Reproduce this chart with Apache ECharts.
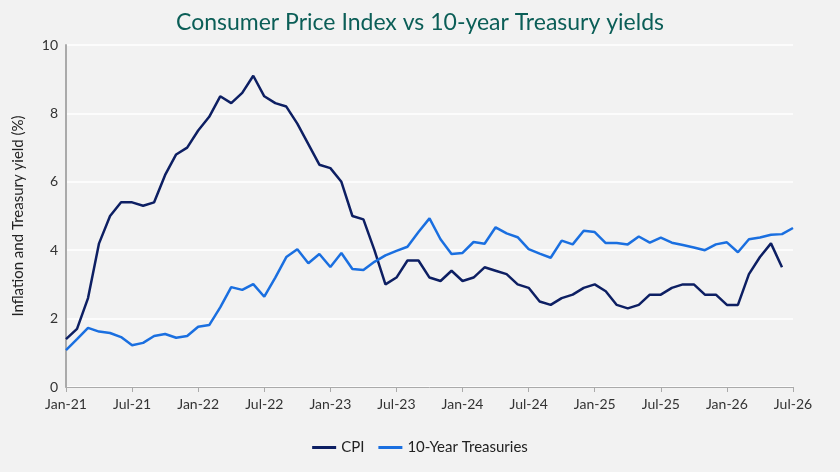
<!DOCTYPE html><html><head><meta charset="utf-8"><script src="https://cdn.jsdelivr.net/npm/echarts@6/dist/echarts.min.js"></script>
<style>html,body{margin:0;background:#f2f2f2}#c{width:840px;height:472px}</style></head><body><div id="c"></div><script>
const months=['Jan','Feb','Mar','Apr','May','Jun','Jul','Aug','Sep','Oct','Nov','Dec'];
const categories=[];for(let y=21;y<=26;y++)for(let m=0;m<12;m++){if(y===26&&m>6)break;categories.push(months[m]+'-'+y);}
const cpi=[1.4,1.7,2.6,4.2,5.0,5.4,5.4,5.3,5.4,6.2,6.8,7.0,7.5,7.9,8.5,8.3,8.6,9.1,8.5,8.3,8.2,7.7,7.1,6.5,6.4,6.0,5.0,4.9,4.0,3.0,3.2,3.7,3.7,3.2,3.1,3.4,3.1,3.2,3.5,3.4,3.3,3.0,2.9,2.5,2.4,2.6,2.7,2.9,3.0,2.8,2.4,2.3,2.4,2.7,2.7,2.9,3.0,3.0,2.7,2.7,2.4,2.4,3.3,3.8,4.2,3.5];
const treasuries=[1.08,1.4,1.73,1.62,1.58,1.46,1.22,1.29,1.49,1.55,1.44,1.49,1.76,1.81,2.33,2.92,2.84,3.01,2.64,3.2,3.8,4.03,3.62,3.89,3.51,3.92,3.45,3.42,3.66,3.85,3.98,4.1,4.53,4.93,4.32,3.89,3.92,4.24,4.19,4.67,4.49,4.38,4.03,3.9,3.78,4.28,4.17,4.57,4.53,4.21,4.21,4.17,4.4,4.22,4.37,4.22,4.15,4.08,4.0,4.17,4.23,3.94,4.32,4.37,4.45,4.47,4.65];
const c=echarts.init(document.getElementById('c'));
c.setOption({backgroundColor:'#f2f2f2',animation:false,
title:{text:'Consumer Price Index vs 10-year Treasury yields',left:'center',top:6,textStyle:{color:'#0b5e57',fontSize:23,fontWeight:'normal',fontFamily:'Lato'}},
legend:{bottom:12,itemWidth:24,itemHeight:3,icon:'rect',textStyle:{fontSize:15,color:'#222',fontFamily:'Lato'},itemGap:14,data:['CPI','10-Year Treasuries']},
grid:{left:66,right:47,top:45,bottom:85},
xAxis:{type:'category',data:categories,boundaryGap:false,axisLine:{lineStyle:{color:'#aaa'}},axisTick:{show:true,interval:5,alignWithLabel:true,lineStyle:{color:'#aaa'}},axisLabel:{interval:5,color:'#333',fontSize:14,fontFamily:'Lato',margin:10},splitLine:{show:false}},
yAxis:{type:'value',min:0,max:10,interval:2,name:'Inflation and Treasury yield (%)',nameLocation:'middle',nameGap:40,nameTextStyle:{fontSize:15,color:'#222',fontFamily:'Lato'},axisLine:{show:true,lineStyle:{color:'#aaa',width:2}},axisLabel:{color:'#333',fontSize:14,fontFamily:'Lato'},splitLine:{lineStyle:{color:'#ffffff',width:1.5}}},
series:[{name:'CPI',type:'line',data:cpi,symbol:'none',lineStyle:{width:2.5,color:'#0d1f63'},itemStyle:{color:'#0d1f63'}},
{name:'10-Year Treasuries',type:'line',data:treasuries,symbol:'none',lineStyle:{width:2.5,color:'#1a6fe0'},itemStyle:{color:'#1a6fe0'}}]});
</script></body></html>
